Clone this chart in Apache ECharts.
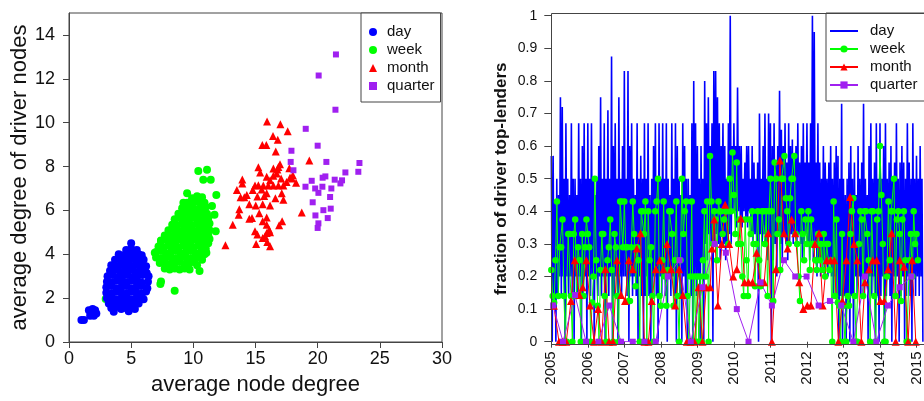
<!DOCTYPE html>
<html><head><meta charset="utf-8">
<script src="https://cdn.jsdelivr.net/npm/echarts/dist/echarts.min.js"></script>
<style>html,body{margin:0;padding:0;background:#fff}#c{width:924px;height:401px}</style>
</head><body><div id="c"></div>
<script>
// ---------- Left panel: scatter (average node degree vs average degree of driver nodes)
const scatterDay = [
 [5.0,4.5],
 [4.6,4.2],[5.0,4.25],[5.45,4.2],
 [4.0,4.0],[4.4,3.95],[4.8,4.05],[5.2,3.95],[5.6,4.0],[5.85,3.95],
 [3.7,3.75],[4.1,3.8],[4.5,3.7],[4.9,3.75],[5.3,3.8],[5.7,3.7],[6.0,3.75],
 [3.4,3.5],[3.8,3.45],[4.2,3.55],[4.6,3.5],[5.0,3.45],[5.4,3.55],[5.8,3.5],[6.2,3.45],
 [3.3,3.25],[3.7,3.3],[4.1,3.2],[4.5,3.25],[4.9,3.3],[5.3,3.2],[5.7,3.25],[6.1,3.3],[6.25,3.15],
 [3.1,3.0],[3.5,3.05],[3.9,2.95],[4.3,3.0],[4.7,3.05],[5.1,2.95],[5.5,3.0],[5.9,3.05],[6.4,3.0],
 [3.05,2.75],[3.45,2.7],[3.85,2.8],[4.25,2.75],[4.65,2.7],[5.05,2.8],[5.45,2.75],[5.85,2.7],[6.35,2.75],
 [3.0,2.5],[3.4,2.55],[3.8,2.45],[4.2,2.5],[4.6,2.55],[5.0,2.45],[5.4,2.5],[5.8,2.55],[6.3,2.45],
 [3.0,2.25],[3.4,2.2],[3.8,2.3],[4.2,2.25],[4.6,2.2],[5.0,2.3],[5.4,2.25],[5.8,2.2],[6.2,2.3],
 [3.05,2.0],[3.45,2.05],[3.85,1.95],[4.25,2.0],[4.65,2.05],[5.05,1.95],[5.45,2.0],[5.85,2.05],[6.0,1.95],
 [3.2,1.75],[3.6,1.8],[4.0,1.7],[4.4,1.75],[4.8,1.8],[5.2,1.7],[5.6,1.75],
 [3.4,1.55],[3.8,1.6],[4.2,1.5],[4.6,1.55],[5.0,1.6],[5.3,1.5],
 [3.6,1.38],[4.8,1.4],
 [1.0,1.0],[1.2,1.0],[1.6,1.45],[1.75,1.3],[2.0,1.2],[2.1,1.45],[1.9,1.5],[2.2,1.3],[1.7,1.2]
];
const scatterWeek = [
 [9.9,6.55],[10.3,6.65],[10.7,6.6],
 [9.5,6.35],[9.9,6.3],[10.3,6.4],[10.6,6.3],[10.9,6.35],
 [9.1,6.1],[9.5,6.05],[9.9,6.15],[10.3,6.05],[10.7,6.1],[11.0,6.15],
 [8.8,5.85],[9.2,5.8],[9.6,5.9],[10.0,5.85],[10.4,5.8],[10.8,5.9],[11.1,5.85],
 [8.5,5.6],[8.9,5.65],[9.3,5.55],[9.7,5.6],[10.1,5.65],[10.5,5.55],[10.9,5.6],[11.2,5.65],
 [8.3,5.35],[8.7,5.3],[9.1,5.4],[9.5,5.35],[9.9,5.3],[10.3,5.4],[10.7,5.35],[11.0,5.3],[11.3,5.4],
 [8.0,5.1],[8.4,5.15],[8.8,5.05],[9.2,5.1],[9.6,5.15],[10.0,5.05],[10.4,5.1],[10.8,5.15],[11.1,5.05],[11.3,5.1],
 [7.7,4.85],[8.1,4.8],[8.5,4.9],[8.9,4.85],[9.3,4.8],[9.7,4.9],[10.1,4.85],[10.5,4.8],[10.9,4.9],[11.2,4.85],
 [7.4,4.6],[7.8,4.65],[8.2,4.55],[8.6,4.6],[9.0,4.65],[9.4,4.55],[9.8,4.6],[10.2,4.65],[10.6,4.55],[11.0,4.6],[11.2,4.5],
 [7.2,4.35],[7.6,4.3],[8.0,4.4],[8.4,4.35],[8.8,4.3],[9.2,4.4],[9.6,4.35],[10.0,4.3],[10.4,4.4],[10.8,4.35],[11.0,4.25],
 [7.0,4.1],[7.4,4.15],[7.8,4.05],[8.2,4.1],[8.6,4.15],[9.0,4.05],[9.4,4.1],[9.8,4.15],[10.2,4.05],[10.6,4.1],[10.9,4.0],
 [7.0,3.85],[7.4,3.8],[7.8,3.9],[8.2,3.85],[8.6,3.8],[9.0,3.9],[9.4,3.85],[9.8,3.8],[10.2,3.9],[10.6,3.85],[10.7,3.75],
 [7.3,3.6],[7.7,3.65],[8.1,3.55],[8.5,3.6],[8.9,3.65],[9.3,3.55],[9.7,3.6],[10.1,3.65],[10.3,3.5],
 [7.7,3.35],[8.1,3.3],[8.5,3.35],[8.9,3.3],[9.3,3.35],[9.7,3.3],
 [10.4,7.8],[11.1,7.85],[10.8,7.4],[11.4,7.4],[11.85,6.7],[11.7,5.8],[11.8,5.05],[9.5,6.78],[9.2,6.35],
 [7.4,4.63],[6.9,4.07],[7.4,2.76],[7.35,2.65],[8.5,2.34],[10.5,3.24],[11.05,4.07],[2.95,1.96],[11.5,6.2],[11.3,4.7]
];
const scatterMonth = [
 [15.93,10.05],[17.0,9.93],[17.59,9.61],[16.41,9.39],[16.79,9.22],[15.55,8.98],[15.87,8.98],[16.63,8.69],
 [19.33,8.27],[16.97,8.1],[15.23,7.97],[16.76,7.86],[17.72,7.92],[13.94,7.41],[13.94,7.23],[17.94,7.46],[18.26,7.26],
 [15.37,7.73],[15.9,7.53],[16.17,7.38],[16.44,7.58],[16.71,7.68],[17.06,7.46],[16.44,7.91],[16.84,7.98],
 [14.96,7.13],[15.23,7.15],[15.63,7.13],[16.03,7.13],[16.44,7.13],[16.84,7.13],[17.24,7.13],[14.78,6.93],[15.5,6.95],
 [13.5,6.93],[13.8,6.6],[14.1,6.6],[14.3,6.7],[15.7,6.66],[15.15,6.63],[17.24,6.48],[16.6,6.55],[17.11,6.78],[15.9,6.78],
 [14.5,6.28],[15.02,6.22],[15.58,6.28],[16.17,6.22],[13.7,6.05],[15.3,5.87],[13.65,5.8],[18.72,5.9],
 [14.5,5.62],[14.72,5.65],[15.9,5.68],[15.58,5.5],[17.14,5.5],[16.9,5.32],[13.17,5.35],[15.9,5.35],[16.1,5.12],
 [14.96,5.05],[15.15,4.9],[15.9,4.97],[16.17,5.0],[15.58,4.74],[15.77,4.82],[12.58,4.41],[15.05,4.47],[15.95,4.56],[16.17,4.37],
 [17.78,7.5],[18.0,7.6],[17.5,7.3]
];
const scatterQuarter = [
 [21.43,10.59],[19.04,9.72],[20.0,8.95],[17.89,8.72],[17.83,8.21],[20.7,8.21],[23.36,8.16],[18.05,7.83],
 [23.27,7.76],[22.23,7.73],[20.62,7.55],[20.4,7.49],[21.37,7.4],[21.96,7.37],[21.83,7.23],[19.52,7.35],
 [19.02,7.08],[20.38,7.08],[19.8,7.0],[20.06,6.8],[21.1,7.0],[21.0,6.61],[19.6,6.37],[21.05,6.08],
 [20.46,6.01],[19.82,5.77],[20.81,5.65],[20.06,5.41],[20.0,5.2],[20.08,12.15],[21.47,13.11]
];
const leftXTicks = [0,5,10,15,20,25,30];
const leftYTicks = [0,2,4,6,8,10,12,14];

// ---------- Right panel: fraction of driver top-lenders over time (values in %)
const day2005 = [57,0,57,14,43,0,50,14,45,20,75,14,72,20,50,0,67,20,50,14,45,20,67,14,50,0,50,20,45,14,67,20,50,0,60,14,67,20,50,0];
const day2006 = [67,20,50,14,67,20,50,0,45,20,50,14,60,20,75,14,50,20,67,0,50,20,71,14,50,20,87.5,0,60,14,67,20,50,0,75,20,50,14,60,20];
const day2007 = [83,20,50,14,83,0,60,20,67,14,50,20,45,14,67,0,50,20,57,14,50,0,67,14,50,20,67,14,45,0,50,14,60,20,67,14,50,0,67,20];
const day2008 = [50,14,67,20,50,14,67,0,50,20,45,14,67,20,50,14,67,0,60,20,50,14,45,0,67,20,60,14,50,0,50,20,45,14,67,0,80,20,67,14];
const day2009 = [60,20,50,0,60,25,50,0,80,30,67,25,75,33,60,30,67,0,83,30,83,33,75,30,67,25,60,33,67,30,60,25,50,30,67,33,100,30,60,40];
const day2010 = [67,40,60,35,78,40,60,38,60,35,50,40,55,38,60,35,60,40,50,33,60,30,55,33,50,30,55,0,70,33,50,30,60,33,70,30,50,25,70,33];
const day2011 = [67,0,60,25,67,30,55,20,60,33,77,30,65,25,60,33,67,30,55,25,67,30,60,33,62,30,55,33,60,30,67,33,55,30,60,25,67,30,55,33];
const day2012 = [67,30,55,25,67,30,100,25,95,30,55,20,67,25,55,20,50,25,60,20,55,25,50,20,55,25,60,20,50,14,55,20,60,14,57,0,50,14,73,0];
const day2013 = [50,14,45,0,50,14,55,0,60,14,50,0,55,20,45,14,60,20,50,14,55,20,73,14,50,20,45,0,60,20,67,14,50,20,55,0,67,14,50,0];
const day2014 = [67,14,50,20,60,0,67,14,50,20,55,14,60,0,50,20,55,14,67,20,50,0,55,14,60,20,55,0,50,14,67,20,55,14,50,0,67,20,50,14];
const day2015 = [57,20,50,14,60,20,50,0];

const week2005 = [22,14,12,25,43,14,29,29,37.5,14,0,0,33,33,14,0,33,37.5,14,29,25,0,33,14,29,37.5];
const week2006 = [33,29,0,12,20,50,25,11,0,22,33,33,14,0,25,29,37.5,22,0,33,29,14,0,43,43,29];
const week2007 = [43,29,29,12.5,12.5,29,43,33,17,29,25,0,40,40,33,43,0,40,25,29,14,0,40,43,50,14];
const week2008 = [11,25,43,20,11,22,40,40,33,11,25,43,14,0,25,50,33,40,43,14,0,20,43,0,20,0];
const week2009 = [20,0,20,0,25,40,20,43,0,57,43,30,40,37.5,25,43,40,40,33,37.5,40,40,30,50,40,58];
const week2010 = [45,33,55,30,37.5,30,20,14,37.5,25,14,37.5,33,40,30,17,30,40,25,17,40,40,30,40,14,40];
const week2011 = [50,40,12.5,55,50,33,37.5,22,50,50,57,44,40,30,44,50,50,57,33,30,20,12.5,40,33,25,37.5];
const week2012 = [30,40,22,37.5,30,30,25,22,33,25,30,22,33,20,30,30,22,25,0,43,14,37.5,12,11,0,33];
const week2013 = [11,0,0,14,11,33,40,44,14,0,0,30,40,37.5,14,40,40,33,25,0,40,40,14,0,37.5,40];
const week2014 = [60,45,30,0,0,20,43,25,40,40,50,14,37.5,40,33,12.5,37.5,40,25,0,0,25,33,20,40,30];
const week2015 = [33,25];

const monthDates = [2005.07,2005.21,2005.31,2005.41,2005.54,2005.64,2005.77,2005.86,2005.96,
 2006.06,2006.17,2006.28,2006.38,2006.48,2006.58,2006.69,2006.80,2006.91,
 2007.02,2007.12,2007.23,2007.34,2007.44,2007.55,2007.66,2007.75,2007.86,2007.97,
 2008.07,2008.17,2008.28,2008.39,2008.50,2008.60,2008.71,2008.81,2008.92,
 2009.03,2009.14,2009.24,2009.35,2009.40,2009.46,2009.56,2009.67,2009.76,2009.87,2009.98,
 2010.08,2010.19,2010.29,2010.40,2010.51,2010.62,2010.72,2010.83,2010.94,
 2011.04,2011.15,2011.26,2011.37,2011.47,2011.58,2011.68,2011.79,2011.90,
 2012.01,2012.11,2012.22,2012.33,2012.43,2012.54,2012.65,2012.75,2012.86,2012.97,
 2013.08,2013.18,2013.29,2013.38,2013.49,2013.59,2013.70,2013.80,2013.91,
 2014.01,2014.12,2014.22,2014.32,2014.43,2014.54,2014.66,2014.77,2014.88,2014.98];
const monthValues = [11,0,0,0,12.5,25,14.3,16.7,25,
 11.1,0,10,0,22.2,0,0,25,14.3,
 12.5,25,22.2,28.6,33.3,0,0,12.5,22.2,25,
 22.2,30,22.2,11.1,22.2,14.3,0,0,0,
 16.7,0,16.7,16.7,28.6,37.5,11.1,30,42,30,20,
 22.2,37.8,18.2,18.2,18.2,27.3,18.2,18.2,33.3,
 0,22.2,55.6,33.3,28.6,37.5,33.3,18.2,10,
 11.1,11.1,30,33.3,11.1,25,25,25,0,12.5,
 25,44.4,30,25,0,18.2,22.2,25,25,
 12.5,12.5,22.2,33.3,0,25,23,0,25,0];
const quarterDates = [2005.05,2005.32,2005.65,2005.95,2006.29,2006.59,2006.91,2007.23,2007.55,2007.86,
 2008.19,2008.51,2008.82,2009.14,2009.47,2009.78,2010.08,2010.40,2010.73,2011.04,2011.37,2011.68,2011.99,
 2012.32,2012.63,2012.94,2013.27,2013.59,2013.90,2014.22,2014.54,2014.86];
const quarterValues = [11.1,0,14.3,0,0,11.1,0,0,0,0,20,25,0,16.7,30,27.3,10,0,18.2,11.1,25,20,20,11.1,12.5,11.1,0,20,0,11.1,16.7,20];
const yearTicks = [2005,2006,2007,2008,2009,2010,2011,2012,2013,2014,2015];
const fracTicks = [0,0.1,0.2,0.3,0.4,0.5,0.6,0.7,0.8,0.9,1];
const legendNames = ['day','week','month','quarter'];

// ---------- build
function byYear(years, start, step){
  const out = [];
  years.forEach((arr,k)=>arr.forEach((v,i)=>out.push([start+k+i*step, v/100])));
  return out;
}
const dayData = byYear([day2005,day2006,day2007,day2008,day2009,day2010,day2011,day2012,day2013,day2014,day2015], 2005, 1/40);
const weekData = byYear([week2005,week2006,week2007,week2008,week2009,week2010,week2011,week2012,week2013,week2014,week2015], 2005, 1/26);
const monthData = monthDates.map((d,i)=>[d, monthValues[i]/100]);
const quarterData = quarterDates.map((d,i)=>[d, quarterValues[i]/100]);

const FONT = '"Liberation Sans", Arial, Helvetica, sans-serif';
const AX = '#444';
const TXT = '#111';
const C = {day:'#0000ff', week:'#00ff00', month:'#ff0000', quarter:'#a020f0'};

const chart = echarts.init(document.getElementById('c'), null, {renderer:'canvas'});
chart.setOption({
  animation:false,
  backgroundColor:'#fff',
  textStyle:{fontFamily:FONT},
  grid:[
    {left:69, top:13, width:373, height:332, show:true, borderColor:AX, borderWidth:1},
    {left:551.3, top:15.7, width:381.5, height:326}
  ],
  xAxis:[
    {gridIndex:0, type:'value', min:0, max:30, interval:5,
     axisLine:{show:true, lineStyle:{color:AX}},
     axisTick:{show:true, length:6, lineStyle:{color:AX}, customValues:leftXTicks},
     axisLabel:{fontSize:18, color:TXT, margin:8, fontFamily:FONT, customValues:leftXTicks},
     splitLine:{show:false},
     name:'average node degree', nameLocation:'middle', nameGap:32,
     nameTextStyle:{fontSize:22, color:TXT, fontFamily:FONT}},
    {gridIndex:1, type:'value', min:2005, max:2015.2, interval:1, offset:2.6,
     axisLine:{show:false},
     axisTick:{show:true, length:6, lineStyle:{color:AX}, customValues:yearTicks},
     axisLabel:{fontSize:15, color:TXT, margin:7, rotate:90, fontFamily:FONT, customValues:yearTicks,
       formatter:(v)=>String(Math.round(v))},
     splitLine:{show:false}}
  ],
  yAxis:[
    {gridIndex:0, type:'value', min:0, max:15, interval:1,
     axisLine:{show:true, lineStyle:{color:AX}},
     axisTick:{show:true, length:6, lineStyle:{color:AX}, customValues:leftYTicks},
     axisLabel:{fontSize:18, color:TXT, margin:14, fontFamily:FONT, customValues:leftYTicks},
     splitLine:{show:false},
     name:'average degree of driver nodes', nameLocation:'middle', nameGap:38,
     nameTextStyle:{fontSize:22, color:TXT, fontFamily:FONT}},
    {gridIndex:1, type:'value', min:0, max:1, interval:0.1,
     axisLine:{show:false},
     axisTick:{show:true, length:7, lineStyle:{color:AX}, customValues:fracTicks},
     axisLabel:{fontSize:14, color:TXT, margin:14, fontFamily:FONT, customValues:fracTicks},
     splitLine:{show:false},
     name:'fraction of driver top-lenders', nameLocation:'middle', nameGap:41,
     nameTextStyle:{fontSize:17, fontWeight:'bold', color:TXT, fontFamily:FONT}}
  ],
  legend:[
    {data:legendNames.map(n=>'L'+n), left:361, top:13, orient:'vertical', itemGap:0,
     itemWidth:8, itemHeight:8, padding:[10,6,7,8], borderColor:AX, borderWidth:1,
     backgroundColor:'#fff', selectedMode:false, formatter:(n)=>n.slice(1),
     textStyle:{fontSize:15, lineHeight:18, color:TXT, fontFamily:FONT, padding:[0,0,0,5]}},
    {data:legendNames.map(n=> n==='day' ? {name:'R'+n, itemStyle:{color:'rgba(0,0,0,0)', borderWidth:0}, lineStyle:{width:2}} : 'R'+n),
     left:826, top:13, orient:'vertical', itemGap:0,
     itemWidth:28, itemHeight:9, padding:[9,30,7,3], borderColor:AX, borderWidth:1,
     backgroundColor:'#fff', selectedMode:false, formatter:(n)=>n.slice(1),
     textStyle:{fontSize:15, lineHeight:18, color:TXT, fontFamily:FONT, padding:[0,0,0,7]}}
  ],
  graphic:[
    {type:'rect', shape:{x:551.5, y:13.5, width:400, height:331}, style:{fill:'none', stroke:AX, lineWidth:1}, z:50, silent:true}
  ],
  series:[
    {name:'Lweek', type:'scatter', xAxisIndex:0, yAxisIndex:0, data:scatterWeek, symbol:'circle', symbolSize:8, itemStyle:{color:C.week, opacity:1}},
    {name:'Lday', type:'scatter', xAxisIndex:0, yAxisIndex:0, data:scatterDay, symbol:'circle', symbolSize:8, itemStyle:{color:C.day, opacity:1}},
    {name:'Lmonth', type:'scatter', xAxisIndex:0, yAxisIndex:0, data:scatterMonth, symbol:'triangle', symbolSize:8, itemStyle:{color:C.month, opacity:1}},
    {name:'Lquarter', type:'scatter', xAxisIndex:0, yAxisIndex:0, data:scatterQuarter, symbol:'rect', symbolSize:6, itemStyle:{color:C.quarter, opacity:1}},
    {name:'Rday', type:'line', xAxisIndex:1, yAxisIndex:1, data:dayData, symbol:'none', showSymbol:false,
     lineStyle:{width:1.6, color:C.day}, itemStyle:{color:C.day}},
    {name:'Rweek', type:'line', xAxisIndex:1, yAxisIndex:1, data:weekData, symbol:'circle', symbolSize:6.5, showAllSymbol:true,
     lineStyle:{width:1, color:C.week}, itemStyle:{color:C.week}},
    {name:'Rmonth', type:'line', xAxisIndex:1, yAxisIndex:1, data:monthData, symbol:'triangle', symbolSize:8, showAllSymbol:true,
     lineStyle:{width:1, color:C.month}, itemStyle:{color:C.month}},
    {name:'Rquarter', type:'line', xAxisIndex:1, yAxisIndex:1, data:quarterData, symbol:'rect', symbolSize:6, showAllSymbol:true,
     lineStyle:{width:1, color:C.quarter}, itemStyle:{color:C.quarter}}
  ]
});
</script></body></html>
